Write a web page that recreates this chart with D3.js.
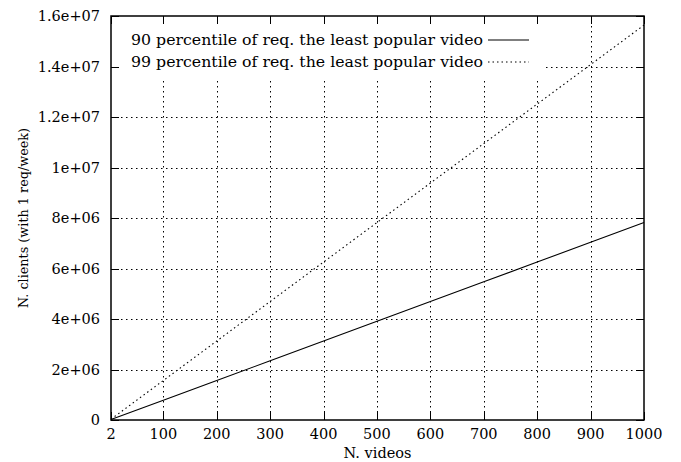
<!DOCTYPE html>
<html>
<head>
<meta charset="utf-8">
<script src="https://cdn.jsdelivr.net/npm/d3@7"></script>
<style>
  body { margin: 0; background: #fff; }
  text { font-family: "DejaVu Serif", "Liberation Serif", serif; fill: #000; }
</style>
</head>
<body>
<div id="chart"></div>
<script>
// values
const videos = [2, 100, 200, 300, 400, 500, 600, 700, 800, 900, 1000];
const p90 = [15600, 782000, 1564000, 2346000, 3128000, 3910000, 4692000, 5474000, 6256000, 7038000, 7820000];
const p99 = [31200, 1564000, 3128000, 4692000, 6256000, 7820000, 9384000, 10948000, 12512000, 14076000, 15640000];
const xTicks = [2, 100, 200, 300, 400, 500, 600, 700, 800, 900, 1000];
const yTicks = [0, 2e6, 4e6, 6e6, 8e6, 1e7, 1.2e7, 1.4e7, 1.6e7];
const yTickLabels = ["0", "2e+06", "4e+06", "6e+06", "8e+06", "1e+07", "1.2e+07", "1.4e+07", "1.6e+07"];
const seriesNames = [
  "90 percentile of req. the least popular video",
  "99 percentile of req. the least popular video"
];

const width = 681, height = 462;
const margin = { top: 16, right: 37, bottom: 42, left: 111 };
const iw = width - margin.left - margin.right;
const ih = height - margin.top - margin.bottom;

const svg = d3.select("#chart").append("svg")
  .attr("width", width).attr("height", height);
const g = svg.append("g").attr("transform", `translate(${margin.left},${margin.top})`);

const x = d3.scaleLinear().domain([2, 1000]).range([0, iw]);
const y = d3.scaleLinear().domain([0, 1.6e7]).range([ih, 0]);

// grid
const grid = g.append("g").attr("stroke", "#000").attr("stroke-width", 1)
  .attr("stroke-dasharray", "1.5,3.5").attr("fill", "none");
grid.selectAll(".gx").data(xTicks.slice(1, -1)).join("line")
  .attr("x1", d => Math.round(x(d)) + 0.5).attr("x2", d => Math.round(x(d)) + 0.5)
  .attr("y1", 0).attr("y2", ih);
grid.selectAll(".gy").data(yTicks.slice(1, -1)).join("line")
  .attr("y1", d => Math.round(y(d)) + 0.5).attr("y2", d => Math.round(y(d)) + 0.5)
  .attr("x1", 0).attr("x2", iw);

// opaque key box
const keyW = 433, keyH = 62;
g.append("rect").attr("x", 1).attr("y", 1).attr("width", keyW).attr("height", keyH).attr("fill", "#fff");

// ticks (inward, mirrored)
const tl = 8;
const ticks = g.append("g").attr("stroke", "#000").attr("stroke-width", 1);
xTicks.forEach(t => {
  const px = Math.round(x(t)) + 0.5;
  ticks.append("line").attr("x1", px).attr("x2", px).attr("y1", ih).attr("y2", ih - tl);
  ticks.append("line").attr("x1", px).attr("x2", px).attr("y1", 0).attr("y2", tl);
});
yTicks.forEach(t => {
  const py = Math.round(y(t)) + 0.5;
  ticks.append("line").attr("y1", py).attr("y2", py).attr("x1", 0).attr("x2", tl);
  ticks.append("line").attr("y1", py).attr("y2", py).attr("x1", iw).attr("x2", iw - tl);
});

// series
const line = d3.line().x((d, i) => x(videos[i])).y(d => y(d));
g.append("path").datum(p90).attr("d", line)
  .attr("fill", "none").attr("stroke", "#000").attr("stroke-width", 1.1);
g.append("path").datum(p99).attr("d", line)
  .attr("fill", "none").attr("stroke", "#000").attr("stroke-width", 1.1)
  .attr("stroke-dasharray", "1.5,3");

// frame
g.append("rect").attr("x", 0).attr("y", 0).attr("width", iw).attr("height", ih)
  .attr("fill", "none").attr("stroke", "#000").attr("stroke-width", 1.5);

// tick labels
const fs = 14.5;
g.selectAll(".xl").data(xTicks).join("text")
  .attr("x", d => x(d)).attr("y", ih + 19)
  .attr("text-anchor", "middle").style("font-size", fs + "px")
  .text(d => d);
g.selectAll(".yl").data(yTicks).join("text")
  .attr("x", -11).attr("y", d => y(d) + 5)
  .attr("text-anchor", "end").style("font-size", fs + "px")
  .text((d, i) => yTickLabels[i]);

// axis titles
g.append("text").attr("x", iw / 2).attr("y", ih + 38)
  .attr("text-anchor", "middle").style("font-size", fs + "px").text("N. videos");
svg.append("text").attr("transform", `translate(28,${margin.top + ih / 2}) rotate(-90)`)
  .attr("text-anchor", "middle").style("font-size", "12.8px")
  .text("N. clients (with 1 req/week)");

// key
const key = g.append("g");
seriesNames.forEach((name, i) => {
  const ky = 24 + i * 22;
  key.append("text").attr("x", 20).attr("y", ky + 5).style("font-size", "15.5px")
    .attr("textLength", 352).attr("lengthAdjust", "spacingAndGlyphs").text(name);
  key.append("line").attr("x1", 377).attr("x2", 418).attr("y1", ky).attr("y2", ky)
    .attr("stroke", "#000").attr("stroke-width", 1.1)
    .attr("stroke-dasharray", i === 1 ? "1.5,3" : null);
});
</script>
</body>
</html>
